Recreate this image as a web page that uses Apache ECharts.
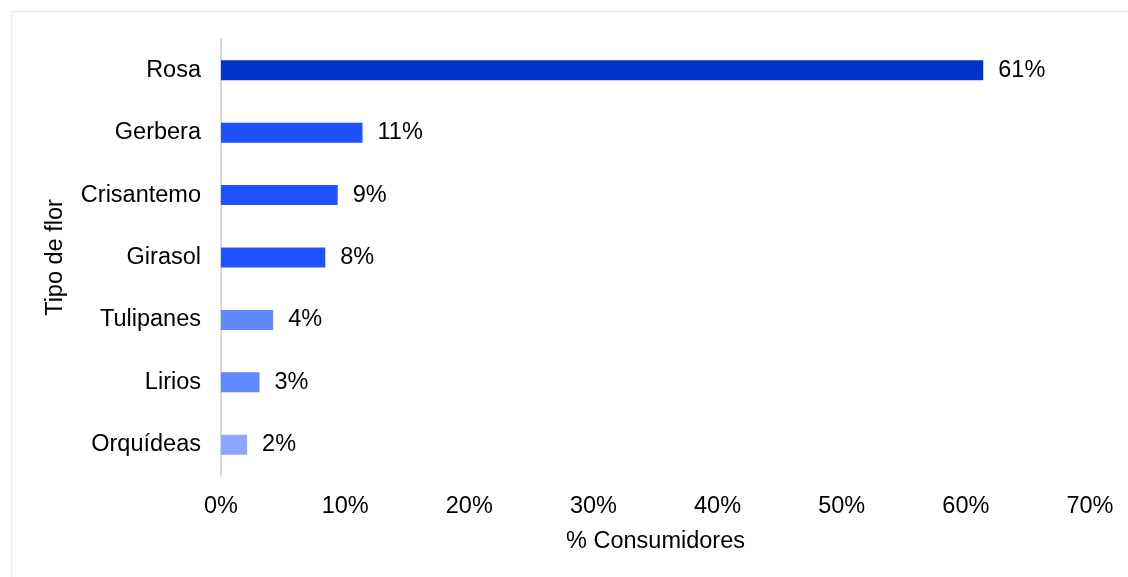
<!DOCTYPE html>
<html>
<head>
<meta charset="utf-8">
<script src="https://cdn.jsdelivr.net/npm/echarts@6/dist/echarts.min.js"></script>
<style>
  html, body { margin: 0; padding: 0; background: #ffffff; }
  #chart { width: 1128px; height: 577px; }
</style>
</head>
<body>
<div id="chart"></div>
<script>
// Flower types and share of consumers (%)
const categories = ['Rosa', 'Gerbera', 'Crisantemo', 'Girasol', 'Tulipanes', 'Lirios', 'Orquídeas'];
const shares = [61.4, 11.4, 9.4, 8.4, 4.2, 3.1, 2.1];
const xTicks = [0, 10, 20, 30, 40, 50, 60, 70];

// Bar fill per category (darkest for the leader, lighter for the small ones)
const barColors = ['#0033C8', '#2151FF', '#2151FF', '#2151FF', '#6088FF', '#6088FF', '#8EA6FF'];

const FONT = '"Liberation Sans", Arial, sans-serif';
const FS = 23.5;
const TXT = '#000000';

const chart = echarts.init(document.getElementById('chart'), null, { renderer: 'canvas' });

chart.setOption({
  backgroundColor: '#ffffff',
  animation: false,
  graphic: [{
    type: 'rect',
    left: 9, top: 9,
    shape: { width: 1140, height: 600 },
    style: { fill: 'none', stroke: '#ececec', lineWidth: 1.5 },
    silent: true
  }],
  grid: { left: 221, right: 38, top: 39, height: 437, containLabel: false },
  xAxis: {
    type: 'value',
    min: xTicks[0],
    max: xTicks[xTicks.length - 1],
    interval: xTicks[1] - xTicks[0],
    name: '% Consumidores',
    nameLocation: 'middle',
    nameGap: 54,
    nameTextStyle: { fontFamily: FONT, fontSize: FS, color: TXT },
    axisLine: { show: false },
    axisTick: { show: false },
    splitLine: { show: false },
    axisLabel: {
      formatter: v => v + '%',
      fontFamily: FONT, fontSize: FS, color: TXT, margin: 19
    }
  },
  yAxis: {
    type: 'category',
    data: categories,
    inverse: true,
    name: 'Tipo de flor',
    nameLocation: 'middle',
    nameGap: 153,
    nameRotate: 90,
    nameTextStyle: { fontFamily: FONT, fontSize: FS, color: TXT },
    axisLine: { show: true, lineStyle: { color: '#d9d9d9', width: 2 } },
    axisTick: { show: false },
    splitLine: { show: false },
    axisLabel: { fontFamily: FONT, fontSize: FS, color: TXT, margin: 20 }
  },
  series: [{
    type: 'bar',
    data: shares.map((v, i) => ({ value: v, itemStyle: { color: barColors[i] } })),
    barWidth: 20,
    label: {
      show: true,
      position: 'right',
      distance: 15,
      formatter: p => Math.round(p.value) + '%',
      fontFamily: FONT, fontSize: FS, color: TXT
    }
  }]
});
</script>
</body>
</html>
